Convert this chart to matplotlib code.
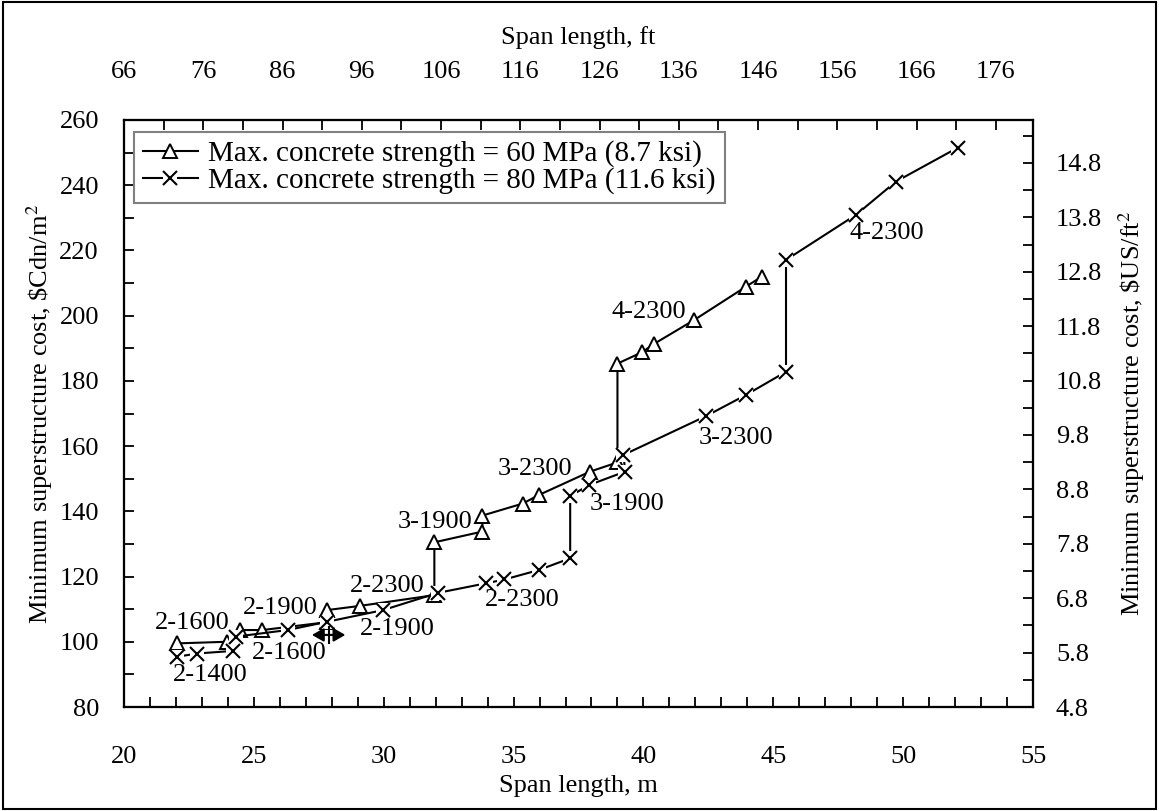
import matplotlib
matplotlib.use("Agg")
import matplotlib.pyplot as plt
from matplotlib.ticker import MultipleLocator, FixedLocator, FormatStrFormatter
from matplotlib.patches import Rectangle
from matplotlib.legend_handler import HandlerTuple
import numpy as np

plt.rcParams["font.family"] = ["Liberation Serif", "DejaVu Serif"]
plt.rcParams["mathtext.fontset"] = "stix"

# 60 MPa series (triangles)
span_60 = [22.03, 23.95, 24.46, 25.33, 27.8, 27.8, 29.08, 31.95, 31.95, 33.8, 33.8,
           35.36, 35.97, 37.95, 39.0, 39.0, 39.95, 40.42, 41.96, 43.95, 44.56]
cost_60 = [99.5, 100.0, 103.6, 103.6, 106.0, 109.7, 111.0, 114.3, 130.5, 133.8, 138.7,
           142.4, 145.0, 152.2, 155.0, 185.3, 188.8, 191.4, 198.7, 208.9, 212.0]

# 80 MPa series (crosses)
span_80 = [22.05, 22.8, 24.2, 24.33, 26.3, 27.8, 29.97, 32.09, 33.92, 34.65, 35.97,
           37.18, 37.18, 37.92, 39.3, 39.23, 42.41, 43.95, 45.49, 45.49, 48.18, 49.72, 52.1]
cost_80 = [95.4, 96.4, 97.2, 101.6, 103.6, 106.1, 109.7, 115.0, 117.9, 119.1, 122.0,
           125.6, 144.7, 148.1, 152.2, 157.3, 169.2, 175.7, 182.8, 217.1, 230.9, 241.1, 251.5]

# girder labels
label_text = ["2-1600", "2-1400", "2-1600", "2-1900", "2-1900", "2-2300", "2-2300",
              "3-1900", "3-2300", "3-1900", "4-2300", "3-2300", "4-2300"]
label_x = [22.63, 23.34, 26.35, 26.0, 30.52, 30.13, 35.33, 31.98, 35.83, 39.37, 40.21, 43.57, 49.37]
label_y = [105.9, 89.8, 96.7, 110.5, 103.9, 117.1, 112.7, 136.6, 153.0, 142.3, 201.0, 162.5, 225.5]

# stray double arrow mark
arrow_x = [27.13, 28.63]
arrow_y = 102.1

ft_ticks = list(range(66, 177, 10))
ft_minor = list(range(71, 181, 10))
us_ticks = [4.8, 5.8, 6.8, 7.8, 8.8, 9.8, 10.8, 11.8, 12.8, 13.8, 14.8]
us_minor = [5.3, 6.3, 7.3, 8.3, 9.3, 10.3, 11.3, 12.3, 13.3, 14.3, 15.3]

fs = 19

fig = plt.figure(figsize=(11.59, 8.11), dpi=100)
ax = fig.add_axes([124 / 1159, 1 - 707 / 811, 909 / 1159, 587 / 811])

# series 1: solid line, white-filled triangles
tri, = ax.plot(span_60, cost_60, color="black", lw=1.5, marker="^", ms=10, mfc="white",
               mec="black", mew=1.4, zorder=3)
# series 2: solid line, crosses on a white square (as in Excel)
ln80, = ax.plot(span_80, cost_80, color="black", lw=1.5, zorder=4)
sq80, = ax.plot(span_80, cost_80, ls="none", marker="s", ms=10, mfc="white", mec="white",
                mew=0, zorder=4.5)
x80, = ax.plot(span_80, cost_80, ls="none", marker="x", ms=10, mew=1.5, color="black", zorder=5)

for t, x, y in zip(label_text, label_x, label_y):
    ax.text(x, y, t, fontsize=fs, ha="center", va="center", zorder=6)

ax.annotate("", xy=(arrow_x[0], arrow_y), xytext=(arrow_x[1], arrow_y),
            arrowprops=dict(arrowstyle="<|-|>,head_length=0.7,head_width=0.4",
                            color="black", lw=1.5), zorder=6)
ax.plot([np.mean(arrow_x)], [arrow_y], marker="+", ms=13, mew=1.5, color="black", zorder=6)

ax.set_xlim(20, 55)
ax.set_ylim(80, 260)
ax.xaxis.set_major_locator(MultipleLocator(5))
ax.xaxis.set_minor_locator(MultipleLocator(1))
ax.yaxis.set_major_locator(MultipleLocator(20))
ax.yaxis.set_minor_locator(MultipleLocator(10))
ax.tick_params(which="both", direction="in", length=7, width=1.3, labelsize=fs,
               top=False, right=False)
ax.tick_params(axis="x", pad=28)
ax.tick_params(axis="y", pad=18)

leg = ax.legend([tri, (ln80, sq80, x80)],
                ["Max. concrete strength = 60 MPa (8.7 ksi)",
                 "Max. concrete strength = 80 MPa (11.6 ksi)"],
                handler_map={tuple: HandlerTuple(ndivide=1, pad=0)},
                loc="upper left", bbox_to_anchor=(0.011, 0.98),
                borderaxespad=0, fontsize=21, frameon=True, fancybox=False,
                edgecolor="#808080", framealpha=1, handlelength=1.9, handletextpad=0.35,
                labelspacing=0.0, borderpad=0.3)
leg.get_frame().set_linewidth(1.5)
leg.set_zorder(10)

ax.set_xlabel("Span length, m", fontsize=fs)
ax.xaxis.set_label_coords(0.5, -0.115)
ax.set_ylabel(r"Minimum superstructure cost, \$Cdn/m$^2$", fontsize=fs)
ax.yaxis.set_label_coords(-0.076, 0.5)

# right axis in $US/ft2
axr = ax.twinx()
axr.set_ylim(4.8, 15.59)
axr.yaxis.set_major_locator(FixedLocator(us_ticks))
axr.yaxis.set_minor_locator(FixedLocator(us_minor))
axr.yaxis.set_major_formatter(FormatStrFormatter("%.1f"))
axr.tick_params(which="both", direction="in", length=7, width=1.3, labelsize=fs, pad=16.5)
axr.set_ylabel(r"Minimum superstructure cost, \$US/ft$^2$", fontsize=fs)
axr.yaxis.set_label_coords(1.092, 0.5)

# top axis in ft
axt = ax.twiny()
axt.set_xlim(66, 180.7)
axt.xaxis.set_major_locator(FixedLocator(ft_ticks))
axt.xaxis.set_minor_locator(FixedLocator(ft_minor))
axt.tick_params(which="both", direction="in", length=7, width=1.3, labelsize=fs, pad=27)
axt.set_xlabel("Span length, ft", fontsize=fs)
axt.xaxis.set_label_coords(0.5, 1.13)

for a in (ax, axr, axt):
    for s in a.spines.values():
        s.set_linewidth(1.5)

fig.patches.append(Rectangle((0.003, 0.003), 0.994, 0.994, transform=fig.transFigure,
                             fill=False, lw=1.5, ec="black"))

fig.savefig("out.png", dpi=100)
